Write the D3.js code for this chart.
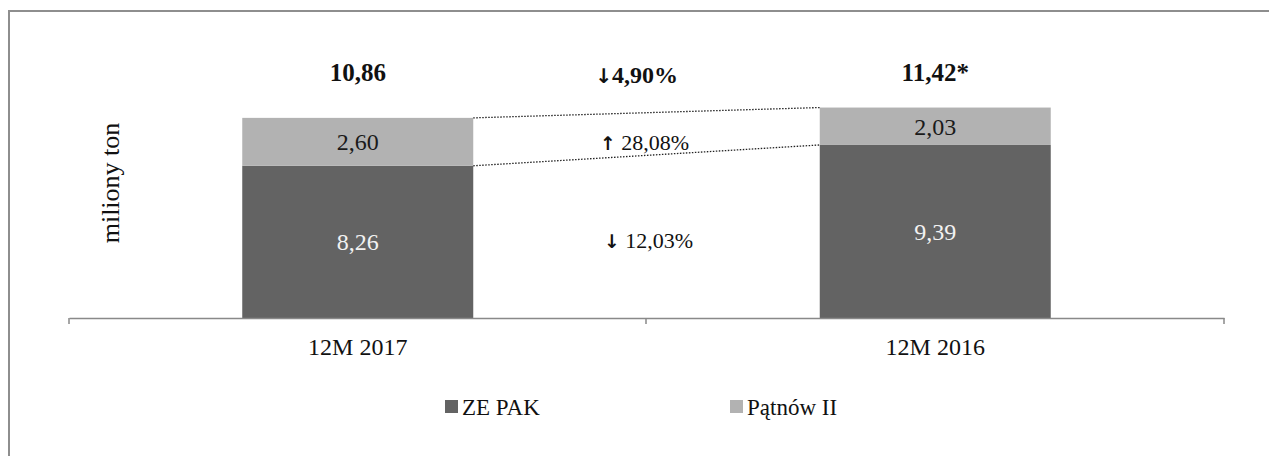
<!DOCTYPE html>
<html><head><meta charset="utf-8">
<script src="https://cdn.jsdelivr.net/npm/d3@7"></script>
<style>body{margin:0;background:#fff}svg{display:block}text{font-family:"Liberation Serif",serif}</style>
</head><body><svg id="c" width="1269" height="456"></svg>
<script>
const categories = ["12M 2017", "12M 2016"];
const zePak = [8.26, 9.39];
const patnow = [2.60, 2.03];
const totalLabels = ["10,86", "11,42*"];
const changeTotal = ["↓", "4,90%"];
const changePatnow = ["↑", " 28,08%"];
const changeZePak = ["↓", " 12,03%"];
const seriesNames = ["ZE PAK", "Pątnów II"];
const colors = ["#636363", "#b2b2b2"];
const fmt = v => v.toFixed(2).replace(".", ",");

const svg = d3.select("#c");
svg.append("rect").attr("x", 9).attr("y", 11).attr("width", 1300).attr("height", 500)
  .attr("fill", "none").attr("stroke", "#8e8e8e").attr("stroke-width", 2);

const x = d3.scaleBand().domain(categories).range([69, 1224]).padding(0);
const y = d3.scaleLinear().domain([0, 14]).range([318, 60]);
const bw = x.bandwidth() * 0.4;
const bx = c => x(c) + (x.bandwidth() - bw) / 2;

const g = svg.append("g");
categories.forEach((c, i) => {
  g.append("rect").attr("x", bx(c)).attr("width", bw)
    .attr("y", y(zePak[i])).attr("height", y(0) - y(zePak[i])).attr("fill", colors[0]);
  g.append("rect").attr("x", bx(c)).attr("width", bw)
    .attr("y", y(zePak[i] + patnow[i])).attr("height", y(0) - y(patnow[i])).attr("fill", colors[1]);
  g.append("text").attr("x", bx(c) + bw / 2).attr("y", y(zePak[i] / 2)).attr("dy", "0.35em")
    .attr("text-anchor", "middle").attr("font-size", 24).attr("fill", "#f2f2f2").text(fmt(zePak[i]));
  g.append("text").attr("x", bx(c) + bw / 2).attr("y", y(zePak[i] + patnow[i] / 2)).attr("dy", "0.35em")
    .attr("text-anchor", "middle").attr("font-size", 24).attr("fill", "#1a1a1a").text(fmt(patnow[i]));
  g.append("text").attr("x", bx(c) + bw / 2).attr("y", 72).attr("dy", "0.35em")
    .attr("text-anchor", "middle").attr("font-size", 25).attr("font-weight", "bold").attr("fill", "#111").text(totalLabels[i]);
});

// dotted connectors
const x1 = bx(categories[0]) + bw, x2 = bx(categories[1]);
[[zePak[0] + patnow[0], zePak[1] + patnow[1]], [zePak[0], zePak[1]]].forEach(([a, b]) => {
  svg.append("line").attr("x1", x1).attr("x2", x2).attr("y1", y(a)).attr("y2", y(b))
    .attr("stroke", "#222").attr("stroke-width", 1.3).attr("stroke-dasharray", "1.5,1.5");
});

const mid = (x1 + x2) / 2;
function changeLabel(parts, cx, cy, size, bold) {
  const t = svg.append("text").attr("x", cx).attr("y", cy).attr("dy", "0.35em").attr("text-anchor", "middle")
    .attr("font-size", size).attr("fill", "#111").attr("font-weight", bold ? "bold" : "normal");
  t.append("tspan").attr("font-family", "DejaVu Sans").attr("font-weight", "bold")
    .attr("font-size", size * 0.85).text(parts[0]);
  t.append("tspan").text(parts[1]);
}
changeLabel(changeTotal, mid - 10, 75, 24, true);
changeLabel(changePatnow, mid - 2, 142, 22, false);
changeLabel(changeZePak, mid + 2, 240, 22, false);

// axis
const ax = svg.append("g").attr("transform", "translate(0,318)")
  .call(d3.axisBottom(x).tickSize(0).tickSizeOuter(0).tickPadding(20));
ax.select(".domain").attr("stroke", "#898989").attr("stroke-width", 1.5);
ax.selectAll("text").attr("font-size", 24).attr("font-family", "Liberation Serif").attr("fill", "#111");
[69, 646, 1224].forEach(t => {
  svg.append("line").attr("x1", t).attr("x2", t).attr("y1", 318).attr("y2", 324)
    .attr("stroke", "#898989").attr("stroke-width", 1.5);
});

// y label
svg.append("text").attr("transform", "translate(110,183) rotate(-90)").attr("text-anchor", "middle")
  .attr("dy", "0.35em").attr("font-size", 26).attr("fill", "#111").text("miliony ton");

// legend
const lx = [445, 730];
seriesNames.forEach((n, i) => {
  svg.append("rect").attr("x", lx[i]).attr("y", 400).attr("width", 13).attr("height", 13).attr("fill", colors[i]);
  svg.append("text").attr("x", lx[i] + 17).attr("y", 407).attr("dy", "0.35em")
    .attr("font-size", 23).attr("fill", "#111").text(n);
});
</script></body></html>
